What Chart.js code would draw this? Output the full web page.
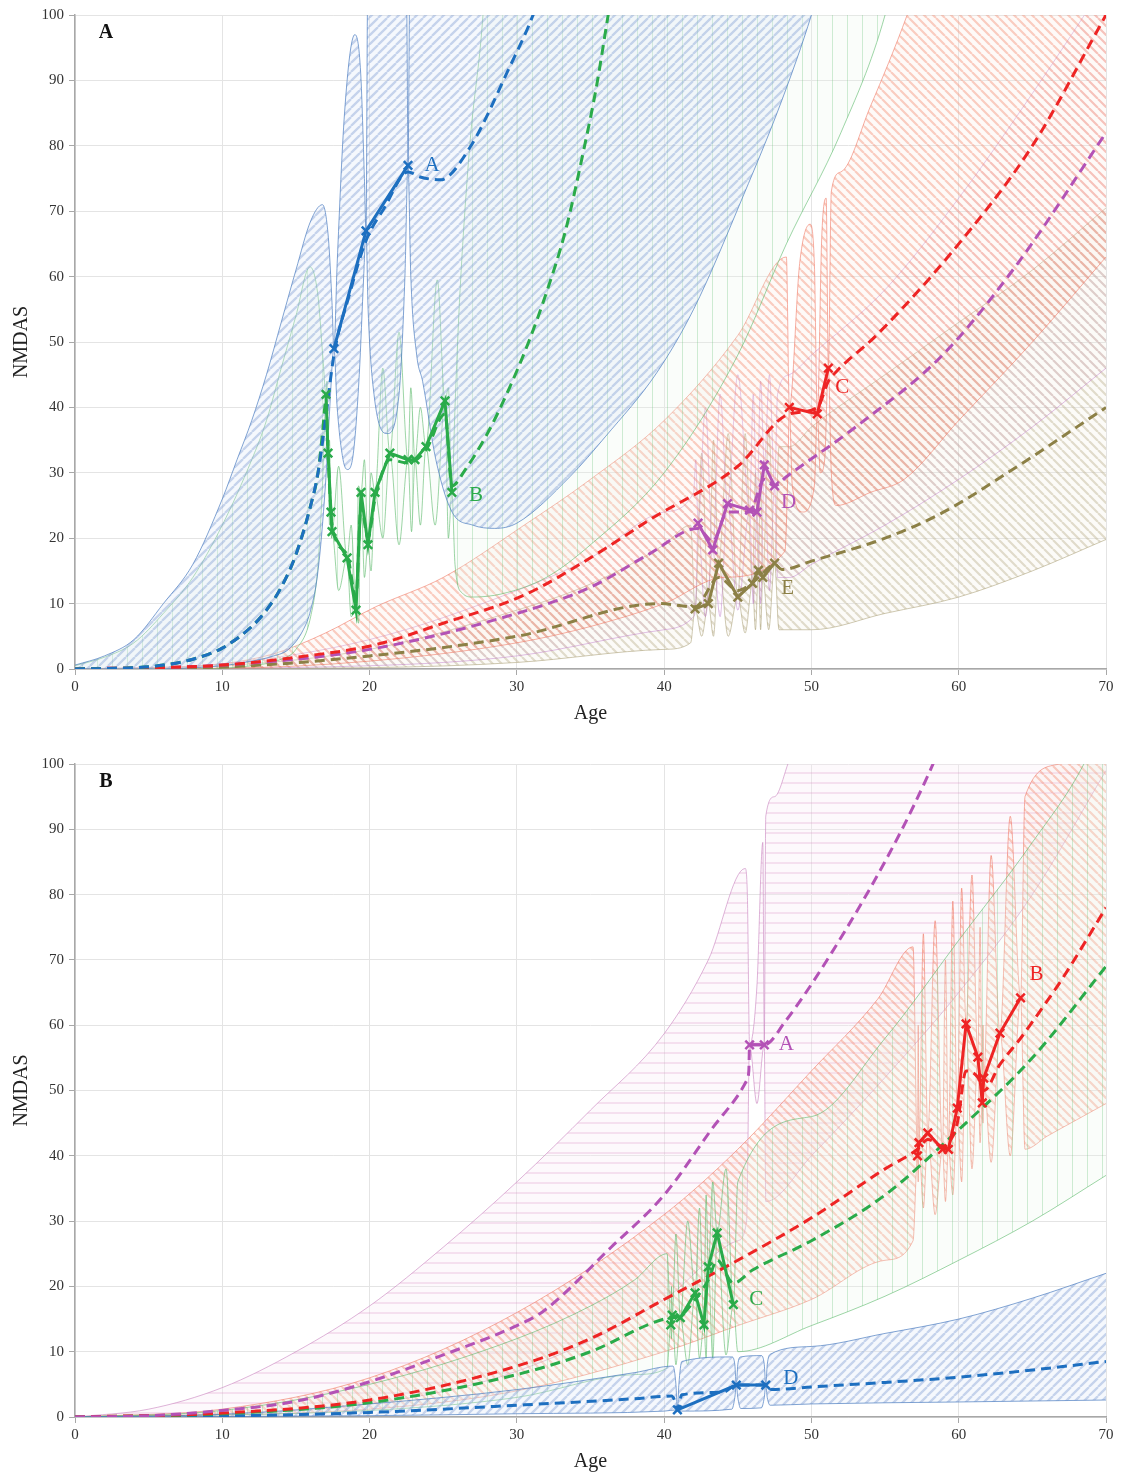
<!DOCTYPE html>
<html>
<head>
<meta charset="utf-8">
<script src="https://cdn.jsdelivr.net/npm/chart.js@4.4.1/dist/chart.umd.min.js"></script>
<style>
  html, body { margin: 0; background: #fff; }
  canvas { position: absolute; left: 0; }
  #chartA { top: 0; }
  #chartB { top: 748px; }
</style>
</head>
<body>
<canvas id="chartA" width="1125" height="740"></canvas>
<canvas id="chartB" width="1125" height="726"></canvas>
<script>
// ---------- panel A data: [age, NMDAS] ----------
var blueObsA = [[17.58,49],[19.76,67],[22.61,77]];
var blueMeanA = [[0,0],[4,0.2],[6,0.6],[8,1.5],[10,3.2],[12,6.5],[13,9],[14,12.5],[15,17.5],[16,25],[16.5,30],[17,38],[17.58,48],[18.6,57],[19.76,65.5],[21,70.5],[22.61,76],[23.5,75.2],[24.8,74.8],[26.8,79.7],[29.5,92],[31.1,100],[32,106]];
var blueUpA = [[0,0.6],[2,2],[4,4.5],[6,10],[8,16],[10,26],[11,32],[12,38],[13,45],[14,53],[15,61],[16,68.5],[16.8,71],[17.2,66],[17.45,56],[17.58,49],[17.8,62],[18.3,85],[19,97],[19.4,91],[19.65,75],[19.76,67],[19.85,100],[20,130],[22.4,130],[22.55,95],[22.61,77],[22.7,100],[22.8,130],[70,130]];
var blueLoA = [[0,0],[6,0],[8,0.2],[10,0.5],[12,1.2],[13.5,2],[14.5,3],[15.5,6],[16,9],[16.5,15],[17,28],[17.3,40],[17.58,49],[17.8,40],[18.2,32],[18.5,30.5],[18.9,33],[19.3,45],[19.6,60],[19.76,67],[19.9,55],[20.3,42],[21.2,36],[22,42],[22.4,60],[22.61,77],[22.8,60],[23.2,48],[23.6,44],[24.5,32],[25.6,24],[27,22],[28.5,21.5],[30,22.3],[33.6,29.4],[36,35.5],[39.5,45.3],[42,55],[45.4,72.5],[48,87],[50,100],[51,108]];

var greenObsA = [[17.04,42],[17.18,33],[17.38,24],[17.45,21],[18.47,17],[19.08,9],[19.42,27],[19.89,19],[20.37,27],[21.38,33],[22.61,32],[23.08,32],[23.83,34],[25.12,41],[25.59,27]];
var greenMeanA = [[0,0],[4,0.2],[6,0.6],[8,1.5],[10,3.2],[12,6.5],[13,9],[14,12.5],[15,17.5],[16,25],[16.5,30],[16.8,36],[17.04,41],[17.18,33],[17.45,22],[18.47,17.5],[19.08,11],[19.42,25],[19.89,20],[20.37,26],[21.38,32],[22.61,31.5],[23.83,33.5],[25.12,39],[25.59,28],[26.5,30.5],[28,36],[29.5,43],[30.8,50],[32,57.5],[33.3,67],[34.6,80],[35.4,89],[36.2,100],[37,111]];
var greenUpA = [[0,0.5],[2,1.8],[4,4],[6,8.5],[8,14],[10,22],[12,32],[13,38],[14,46],[15,54],[15.95,61.5],[16.5,57],[16.85,47],[17.04,42],[17.11,44],[17.18,33],[17.28,35],[17.38,24],[17.42,25],[17.45,21],[17.9,31],[18.47,17],[18.75,22],[19.08,9],[19.25,28],[19.42,27],[19.65,32],[19.89,19],[20.1,30],[20.37,27],[20.9,46],[21.38,33],[22.0,51.5],[22.61,32],[22.8,43],[23.08,32],[23.45,40],[23.83,34],[24.6,59.5],[25.12,41],[25.35,43],[25.59,27],[25.8,40],[26.1,56],[26.8,80],[27.7,100],[28.2,120],[70,130]];
var greenLoA = [[0,0],[8,0],[12,0.5],[14,1.5],[15,3],[16,8],[16.5,16],[16.8,28],[17.04,42],[17.11,32],[17.18,33],[17.28,22],[17.38,24],[17.42,20],[17.45,21],[17.9,12],[18.47,17],[18.75,8],[19.08,9],[19.25,7],[19.42,27],[19.65,14],[19.89,19],[20.1,15],[20.37,27],[20.9,20],[21.38,33],[22.0,19],[22.61,32],[22.85,21],[23.08,32],[23.45,22],[23.83,34],[24.45,22],[25.12,41],[25.35,20],[25.59,27],[25.8,16],[26.3,11.6],[27,11],[29,11.5],[32,14],[35,19],[40,30],[45,48],[48.3,65],[52,82],[55,100],[56,110]];

var redObsA = [[48.5,40],[50.4,39],[51.15,46]];
var redMeanA = [[0,0],[10,0.6],[15,1.8],[20.4,3.7],[25,7],[30.5,11.3],[35,17],[39,22.8],[45,31],[48.5,39],[50.4,40],[51.15,44],[51.7,45.5],[54.4,51],[60,65],[65,80],[70,100]];
var redUpA = [[0,0],[5,0.2],[10,0.8],[13.6,2.4],[17,5.5],[20.4,9.5],[25,14],[30.5,22],[35,29],[40,38],[45,51],[48.3,63],[48.5,40],[49.2,62],[49.9,68],[50.2,62],[50.4,39],[50.7,66],[51.0,72],[51.15,46],[51.35,73],[52,76],[54,86],[56.5,100],[58,110],[70,130]];
var redLoA = [[0,0],[10,0.1],[20,1.2],[30,4],[35,6.5],[40,10],[44,14],[48.2,18],[48.4,30],[48.5,40],[48.7,28],[49.4,24],[50.2,28],[50.4,39],[50.6,30],[50.9,32],[51.15,46],[51.35,30],[51.7,25],[54,27],[56.3,29],[60,38],[65,50],[70,63]];

var magObsA = [[42.3,22.3],[43.3,18.2],[44.3,25.3],[45.8,24.3],[46.3,24],[46.8,31.2],[47.5,28]];
var magMeanA = [[0,0],[10,0.6],[20,3],[30,8.5],[35,12.5],[39,17.6],[42.3,21.5],[43.3,19.5],[44.3,24],[45.8,24],[46.8,29],[47.5,28],[48.3,29.4],[53,37],[58.9,48],[64,62],[70,82]];
var magUpA = [[0,0],[10,0.8],[20,4.5],[30,12],[35,17],[40,24],[42,27],[42.15,32],[42.3,22.3],[42.8,40],[43.3,18.2],[43.8,42],[44.3,25.3],[45.0,45],[45.8,24.3],[46.05,42],[46.3,24],[46.55,44],[46.8,31.2],[47.15,45],[47.5,28],[47.7,42],[48.5,45],[50,48],[55,58],[60,72],[65,88],[70,105]];
var magLoA = [[0,0],[20,0.5],[30,2],[40,6],[42,8],[42.15,10],[42.3,22.3],[42.8,8],[43.3,18.2],[43.8,8],[44.3,25.3],[45.0,9],[45.8,24.3],[46.05,10],[46.3,24],[46.55,10],[46.8,31.2],[47.15,12],[47.5,28],[47.7,14],[48.5,14],[50,16],[55,22],[60,29],[65,37],[70,46]];

var oliveObsA = [[42.1,9.2],[43.0,10],[43.7,16.2],[45.0,11],[46.0,13.1],[46.4,15.1],[46.7,14],[47.5,16.2]];
var oliveMeanA = [[0,0],[10,0.3],[20,2],[30,5],[39.7,10],[42.1,9.5],[43.7,14],[45,12],[46.4,14],[47.5,16],[48,15.2],[50,16.5],[55,20],[58.9,23.9],[64,31],[70,40]];
var oliveUpA = [[0,0],[10,0.5],[20,3],[30,9],[35,13],[40,19],[41.8,22],[42.1,9.2],[42.55,33],[43.0,10],[43.35,35],[43.7,16.2],[44.35,36],[45.0,11],[45.5,36],[46.0,13.1],[46.2,30],[46.4,15.1],[46.55,30],[46.7,14],[47.1,37],[47.5,16.2],[47.8,34],[48.5,34],[50,37],[55,45],[60,53],[65,61],[70,70.5]];
var oliveLoA = [[0,0],[20,0.2],[30,1],[40,3],[41.8,4],[42.1,9.2],[42.55,5],[43.0,10],[43.35,5],[43.7,16.2],[44.35,5],[45.0,11],[45.5,5.5],[46.0,13.1],[46.2,6],[46.4,15.1],[46.55,6],[46.7,14],[47.1,6],[47.5,16.2],[47.8,6],[50,6],[55,8.5],[60,11],[65,15],[70,19.8]];

// ---------- panel B data ----------
var magObsB = [[45.8,57],[46.8,57]];
var magMeanB = [[0,0],[5,0.2],[10,1],[15,2.4],[20,5.4],[25,9.5],[30,14],[31.8,16.2],[36.4,26],[40,34],[43.2,44],[45.6,51.5],[45.75,53],[45.8,57],[46.8,57],[48.2,60.5],[52.3,74.5],[55.9,88.9],[58,98.7],[59,104]];
var magUpB = [[0,0],[5,1.2],[10,4.5],[15,10],[20,17],[25,26],[30,36],[35,47],[40,58.7],[43,70],[45.5,84],[45.65,80],[45.8,57],[46.3,66],[46.7,88],[46.8,57],[46.9,92],[47.5,95],[48.4,100],[49.5,108],[70,130]];
var magLoB = [[0,0],[10,0.5],[20,2],[30,7],[40,18],[45,27],[45.6,30],[45.8,57],[46.3,48],[46.8,57],[46.9,33],[50,40],[55,52],[60,65],[65,80],[70,99]];

var redObsB = [[57.2,40],[57.3,42],[57.9,43.5],[58.9,41],[59.3,41],[59.9,47.3],[60.5,60.2],[61.3,55.1],[61.6,48.1],[61.7,51.9],[62.8,58.8],[64.2,64.2]];
var redMeanB = [[0,0],[10,0.6],[20,2.6],[30,7.8],[35,12],[40,18],[45,24],[50,30.5],[55,38],[57.2,41],[57.9,42.5],[58.9,41.5],[59.9,45],[60.5,53],[61.3,52],[61.7,50],[62.8,54],[64.2,58],[65,60.5],[67,67],[70,78]];
var redUpB = [[0,0],[10,1.2],[20,6],[30,16],[40,31],[45,41],[50,53],[54.5,64],[56.9,72],[57.2,40],[57.25,60],[57.3,42],[57.6,74],[57.9,43.5],[58.4,76],[58.9,41],[59.1,70],[59.3,41],[59.6,79],[59.9,47.3],[60.2,81],[60.5,60.2],[60.9,83],[61.3,55.1],[61.45,75],[61.6,48.1],[61.65,60],[61.7,51.9],[62.2,86],[62.8,58.8],[63.5,92],[64.2,64.2],[64.5,95],[66.8,100],[68,110],[70,120]];
var redLoB = [[0,0],[20,1.2],[30,4],[40,10],[45,14],[50,18],[55,24],[56.9,27],[57.2,40],[57.25,36],[57.3,42],[57.6,32],[57.9,43.5],[58.4,31],[58.9,41],[59.1,33],[59.3,41],[59.6,34],[59.9,47.3],[60.2,36],[60.5,60.2],[60.9,38],[61.3,55.1],[61.45,42],[61.6,48.1],[61.65,45],[61.7,51.9],[62.2,39],[62.8,58.8],[63.5,40],[64.2,64.2],[64.5,41],[66,43],[68,45.5],[70,48]];

var greenObsB = [[40.45,14.1],[40.55,15.6],[41.1,15.2],[42.1,19],[42.7,14.1],[43.0,23],[43.6,28.2],[44.7,17.2]];
var greenMeanB = [[0,0],[10,0.5],[20,2.2],[30,6.5],[35,10],[40,15],[41.1,15.5],[42.1,18],[43.0,21],[43.6,24],[44.7,20.5],[46,22.5],[50,27],[55,34],[60,44],[65,55],[70,69]];
var greenUpB = [[0,0],[10,1],[20,5],[30,12],[35,17],[38,21],[40.2,25],[40.45,14.1],[40.5,20],[40.55,15.6],[40.8,28],[41.1,15.2],[41.6,30],[42.1,19],[42.4,32],[42.7,14.1],[42.85,34],[43.0,23],[43.3,36],[43.6,28.2],[44.2,38],[44.7,17.2],[45,36],[50,46],[55,58],[60,73],[65,88],[68.5,100],[70,108]];
var greenLoB = [[0,0],[20,1],[30,3],[38,6.5],[40.2,7.5],[40.45,14.1],[40.5,12],[40.55,15.6],[40.8,8],[41.1,15.2],[41.6,8],[42.1,19],[42.4,9],[42.7,14.1],[42.85,9],[43.0,23],[43.3,9],[43.6,28.2],[44.2,9.5],[44.7,17.2],[45,10],[50,14],[55,18.5],[60,24],[65,30],[70,37]];

var blueObsB = [[40.9,1.1],[44.9,4.9],[46.9,4.9]];
var blueMeanB = [[0,0],[10,0.15],[20,0.7],[30,1.8],[38,2.8],[40.5,3.2],[40.8,2],[40.9,1.1],[41.2,3.4],[44,3.8],[44.9,4.9],[46.9,4.9],[47.3,4.2],[50,4.6],[55,5.3],[60,6.1],[65,7.2],[70,8.5]];
var blueUpB = [[0,0],[10,0.4],[20,2],[30,4.2],[38,6.8],[40.6,7.8],[40.8,5],[40.9,1.1],[41.0,5],[41.2,8.5],[44.6,9.2],[44.8,8],[44.9,4.9],[45.0,8],[45.2,9.2],[46.6,9.4],[46.8,8],[46.9,4.9],[47.0,8],[47.2,9.6],[50,10.8],[55,12.8],[60,15],[65,18.2],[70,22]];
var blueLoB = [[0,0],[20,0.2],[30,0.5],[40,0.9],[40.9,1.1],[41.2,0.9],[44.6,1.2],[44.8,3],[44.9,4.9],[45.0,3],[45.2,1.3],[46.6,1.4],[46.8,3],[46.9,4.9],[47.0,3],[47.2,1.8],[50,2],[60,2.3],[70,2.6]];

// ---------- drawing ----------
var FONT = 'Liberation Serif';
var BLUE = '#1d6fc0', GREEN = '#2aab4a', RED = '#ee2424', MAG = '#b352b6', OLIVE = '#8c8046';

function hatch(kind, lineCol, bgCol, size, lw) {
  var c = document.createElement('canvas');
  c.width = size; c.height = size;
  var g = c.getContext('2d');
  if (bgCol) { g.fillStyle = bgCol; g.fillRect(0, 0, size, size); }
  g.strokeStyle = lineCol;
  g.lineWidth = lw;
  g.beginPath();
  if (kind == '/') {
    for (var k = -1; k <= 1; k++) { g.moveTo(k*size, size); g.lineTo(k*size + size, 0); }
  } else if (kind == '\\') {
    for (var k = -1; k <= 1; k++) { g.moveTo(k*size, 0); g.lineTo(k*size + size, size); }
  } else if (kind == '|') {
    g.moveTo(size/2, 0); g.lineTo(size/2, size);
  } else {
    g.moveTo(0, size/2); g.lineTo(size, size/2);
  }
  g.stroke();
  return g.createPattern(c, 'repeat');
}

function pts(a) { return a.map(function(p) { return {x: p[0], y: p[1]}; }); }

function obsLine(data, color) {
  return { data: pts(data), borderColor: color, borderWidth: 3, tension: 0,
    pointStyle: 'crossRot', pointRadius: 6, pointBorderColor: color, pointBorderWidth: 2.5,
    fill: false, order: 0 };
}
function meanLine(data, color) {
  return { data: pts(data), borderColor: color, borderWidth: 3, borderDash: [10, 6],
    pointRadius: 0, cubicInterpolationMode: 'monotone', fill: false, order: 1 };
}
// upper edge + lower edge filled back to the upper one
function band(up, lo, edge, pattern, order) {
  return [
    { data: pts(up), borderColor: edge, borderWidth: 0.8, pointRadius: 0,
      cubicInterpolationMode: 'monotone', fill: false, order: order },
    { data: pts(lo), borderColor: edge, borderWidth: 0.8, pointRadius: 0,
      cubicInterpolationMode: 'monotone', fill: '-1', backgroundColor: pattern, order: order }
  ];
}

var textPlugin = {
  id: 'texts',
  afterDatasetsDraw: function(chart, args, opts) {
    var ctx = chart.ctx, a = chart.chartArea, xs = chart.scales.x, ys = chart.scales.y;
    ctx.save();
    ctx.textBaseline = 'middle';
    ctx.textAlign = 'center';
    ctx.fillStyle = '#111';
    ctx.font = 'bold 20px ' + FONT;
    ctx.fillText(opts.letter, a.left + 31, a.top + 18);
    ctx.font = '21px ' + FONT;
    opts.labels.forEach(function(l) {
      var last = l.series[l.series.length - 1];
      ctx.fillStyle = l.color;
      ctx.fillText(l.text, xs.getPixelForValue(last[0]) + l.dx, ys.getPixelForValue(last[1]) + l.dy);
    });
    ctx.fillStyle = '#222';
    ctx.font = '20px ' + FONT;
    ctx.fillText('Age', (a.left + a.right) / 2, a.bottom + 45);
    ctx.translate(22, (a.top + a.bottom) / 2);
    ctx.rotate(-Math.PI / 2);
    ctx.fillText('NMDAS', 0, 0);
    ctx.restore();
  }
};

function makeChart(id, datasets, letter, labels, topPad) {
  var cv = document.getElementById(id);
  var h = cv.height;
  return new Chart(cv, {
    type: 'line',
    data: { datasets: datasets },
    plugins: [textPlugin],
    options: {
      responsive: false, animation: false, devicePixelRatio: 1,
      layout: { padding: { top: topPad, right: 19, left: 0, bottom: 0 } },
      plugins: { legend: { display: false }, tooltip: { enabled: false },
        texts: { letter: letter, labels: labels } },
      scales: {
        x: { type: 'linear', min: 0, max: 70,
          ticks: { stepSize: 10, color: '#333', padding: 3, font: { family: FONT, size: 15 } },
          grid: { color: '#e4e4e4', tickColor: '#a8a8a8', tickLength: 6 },
          border: { color: '#a8a8a8', width: 1.5 },
          afterFit: function(s) { s.height = h - 669; } },
        y: { min: 0, max: 100,
          ticks: { stepSize: 10, color: '#333', padding: 5, font: { family: FONT, size: 15 } },
          grid: { color: '#e4e4e4', tickColor: '#a8a8a8', tickLength: 6 },
          border: { color: '#a8a8a8', width: 1.5 },
          afterFit: function(s) { s.width = 75; } }
      }
    }
  });
}

var blueHatch = function() { return hatch('/', 'rgba(130,160,212,0.42)', 'rgba(222,233,247,0.3)', 9, 2.3); };
var greenHatch = function() { return hatch('|', 'rgba(120,200,135,0.35)', 'rgba(230,245,232,0.22)', 15, 1); };
var redHatch = function() { return hatch('\\', 'rgba(242,140,115,0.42)', 'rgba(252,232,224,0.22)', 9, 2.2); };

// panel A
var dsA = [
  obsLine(blueObsA, BLUE), obsLine(greenObsA, GREEN), obsLine(redObsA, RED),
  obsLine(magObsA, MAG), obsLine(oliveObsA, OLIVE),
  meanLine(blueMeanA, BLUE), meanLine(greenMeanA, GREEN), meanLine(redMeanA, RED),
  meanLine(magMeanA, MAG), meanLine(oliveMeanA, OLIVE)
].concat(
  band(blueUpA, blueLoA, 'rgba(70,120,190,0.85)', blueHatch(), 2),
  band(greenUpA, greenLoA, 'rgba(90,185,105,0.75)', greenHatch(), 3),
  band(redUpA, redLoA, 'rgba(240,120,100,0.75)', redHatch(), 4),
  band(magUpA, magLoA, 'rgba(190,120,200,0.6)', hatch('\\', 'rgba(215,150,205,0.2)', null, 9, 2), 5),
  band(oliveUpA, oliveLoA, 'rgba(175,165,125,0.75)', hatch('\\', 'rgba(185,175,140,0.42)', 'rgba(242,238,225,0.22)', 9, 2.2), 6)
);
// label text sits beside the last observed point of each series
makeChart('chartA', dsA, 'A', [
  { text: 'A', series: blueObsA, color: BLUE, dx: 24, dy: 0 },
  { text: 'B', series: greenObsA, color: GREEN, dx: 24, dy: 3 },
  { text: 'C', series: redObsA, color: RED, dx: 14, dy: 19 },
  { text: 'D', series: magObsA, color: MAG, dx: 14, dy: 17 },
  { text: 'E', series: oliveObsA, color: OLIVE, dx: 13, dy: 25 }
], 15);

// panel B
var dsB = [
  obsLine(magObsB, MAG), obsLine(redObsB, RED), obsLine(greenObsB, GREEN), obsLine(blueObsB, BLUE),
  meanLine(magMeanB, MAG), meanLine(redMeanB, RED), meanLine(greenMeanB, GREEN), meanLine(blueMeanB, BLUE)
].concat(
  band(blueUpB, blueLoB, 'rgba(70,120,190,0.85)', blueHatch(), 2),
  band(greenUpB, greenLoB, 'rgba(90,185,105,0.75)', greenHatch(), 3),
  band(redUpB, redLoB, 'rgba(240,120,100,0.75)', redHatch(), 4),
  band(magUpB, magLoB, 'rgba(200,130,190,0.75)', hatch('-', 'rgba(215,130,190,0.42)', 'rgba(250,236,246,0.3)', 10, 1), 5)
);
makeChart('chartB', dsB, 'B', [
  { text: 'A', series: magObsB, color: MAG, dx: 22, dy: 0 },
  { text: 'B', series: redObsB, color: RED, dx: 16, dy: -23 },
  { text: 'C', series: greenObsB, color: GREEN, dx: 23, dy: -5 },
  { text: 'D', series: blueObsB, color: BLUE, dx: 25, dy: -7 }
], 16);
</script>
</body>
</html>
